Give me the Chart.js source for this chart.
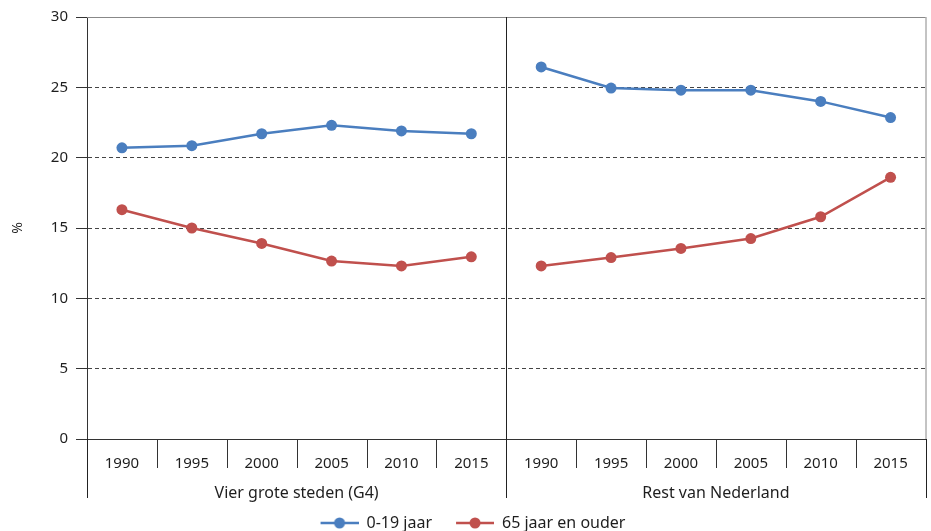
<!DOCTYPE html>
<html>
<head>
<meta charset="utf-8">
<script src="https://cdn.jsdelivr.net/npm/chart.js@4/dist/chart.umd.min.js"></script>
<style>
  html, body { margin: 0; padding: 0; background: #fff; }
  #wrap { width: 931px; height: 531px; }
</style>
</head>
<body>
<div id="wrap"><canvas id="chart"></canvas></div>
<script>
/* ──────────────────────────────────────────────
   Data
   ────────────────────────────────────────────── */
const years = ['1990', '1995', '2000', '2005', '2010', '2015'];
const groups = ['Vier grote steden (G4)', 'Rest van Nederland'];
const young = [20.7, 20.85, 21.7, 22.3, 21.9, 21.7, 26.45, 24.95, 24.8, 24.8, 24.0, 22.85];
const old = [16.3, 15.0, 13.9, 12.65, 12.3, 12.95, 12.3, 12.9, 13.55, 14.25, 15.8, 18.6];
const yTicks = [0, 5, 10, 15, 20, 25, 30];

const BLUE = '#4a7ebf';
const RED = '#c0504d';
const INK = '#1e1e1e';
const FONT = "'Noto Sans', 'Liberation Sans', Arial, sans-serif";

const labels = groups.flatMap(() => years);

// Line with dot, used as legend marker (blank strip on the left = gap between items)
function legendMarker(color) {
  const c = document.createElement('canvas');
  c.width = 58;
  c.height = 14;
  const g = c.getContext('2d');
  g.strokeStyle = color;
  g.lineWidth = 2.5;
  g.beginPath();
  g.moveTo(20, 7);
  g.lineTo(58, 7);
  g.stroke();
  g.fillStyle = color;
  g.beginPath();
  g.arc(39, 7, 5.5, 0, Math.PI * 2);
  g.fill();
  return c;
}

// Break the line between the two groups
const splitSegment = {
  borderColor: (ctx) => (ctx.p0DataIndex === years.length - 1 ? 'transparent' : undefined),
};

/* ──────────────────────────────────────────────
   Frame, group dividers and group labels
   ────────────────────────────────────────────── */
const framePlugin = {
  id: 'frame',
  afterDraw(chart) {
    const { ctx, chartArea: a, scales } = chart;
    const x = scales.x;
    const n = years.length;
    const step = (a.right - a.left) / labels.length;
    ctx.save();

    // top & right border (light)
    ctx.strokeStyle = '#888';
    ctx.lineWidth = 1;
    ctx.beginPath();
    ctx.moveTo(a.left, a.top + 0.5);
    ctx.lineTo(a.right, a.top + 0.5);
    ctx.moveTo(a.right + 0.5, a.top);
    ctx.lineTo(a.right + 0.5, a.bottom);
    ctx.stroke();

    // year ticks under the axis
    ctx.strokeStyle = '#333';
    ctx.beginPath();
    for (let i = 1; i < labels.length; i++) {
      if (i % n === 0) continue;
      const px = Math.round(x.getPixelForValue(i) - step / 2) + 0.5;
      ctx.moveTo(px, a.bottom);
      ctx.lineTo(px, a.bottom + 29);
    }
    ctx.stroke();

    // group dividers
    ctx.strokeStyle = '#222';
    ctx.beginPath();
    for (let gi = 0; gi <= groups.length; gi++) {
      const idx = Math.min(gi * n, labels.length - 1);
      const px = Math.round(x.getPixelForValue(idx) + (gi * n >= labels.length ? step / 2 : -step / 2)) + 0.5;
      const top = gi === 0 || gi === groups.length ? a.bottom : a.top;
      ctx.moveTo(px, top);
      ctx.lineTo(px, a.bottom + 59);
    }
    ctx.stroke();

    // group labels
    ctx.fillStyle = INK;
    ctx.font = '16px ' + FONT;
    ctx.textAlign = 'center';
    ctx.textBaseline = 'middle';
    groups.forEach((g, gi) => {
      const cx = (x.getPixelForValue(gi * n) + x.getPixelForValue(gi * n + n - 1)) / 2;
      ctx.fillText(g, cx, a.bottom + 54);
    });
    ctx.restore();
  },
};

new Chart(document.getElementById('chart'), {
  type: 'line',
  data: {
    labels,
    datasets: [
      {
        label: '0-19 jaar',
        data: young,
        borderColor: BLUE,
        backgroundColor: BLUE,
        borderWidth: 2.5,
        pointRadius: 5.5,
        pointBorderWidth: 0,
        pointStyle: 'circle',
        segment: splitSegment,
      },
      {
        label: '65 jaar en ouder',
        data: old,
        borderColor: RED,
        backgroundColor: RED,
        borderWidth: 2.5,
        pointRadius: 5.5,
        pointBorderWidth: 0,
        segment: splitSegment,
      },
    ],
  },
  options: {
    responsive: true,
    maintainAspectRatio: false,
    animation: false,
    layout: { padding: { top: 16, right: 5, left: 0, bottom: -10 } },
    scales: {
      x: {
        offset: true,
        grid: { display: false },
        border: { display: true, color: '#333', width: 1 },
        ticks: {
          color: INK,
          font: { size: 15, family: FONT },
          padding: 8,
          maxRotation: 0,
          autoSkip: false,
        },
        afterFit(scale) { scale.height = 72; },
      },
      y: {
        min: 0,
        max: 30,
        afterBuildTicks(scale) { scale.ticks = yTicks.map((v) => ({ value: v })); },
        grid: {
          color: (c) => (c.tick && (c.tick.value === 30 || c.tick.value === 0) ? 'transparent' : '#444'),
          tickColor: '#333',
          tickLength: 11,
          lineWidth: 1,
        },
        border: { display: true, color: '#333', dash: [4, 3] },
        ticks: {
          color: INK,
          font: { size: 15, family: FONT },
          padding: 8,
        },
        title: {
          display: true,
          text: '%',
          color: INK,
          font: { size: 14, family: FONT },
          padding: { top: 10, bottom: 0 },
        },
        afterFit(scale) { scale.width = 87; },
      },
    },
    plugins: {
      legend: {
        position: 'bottom',
        labels: {
          color: INK,
          font: { size: 16, family: FONT },
          usePointStyle: true,
          pointStyleWidth: 58,
          boxHeight: 14,
          padding: 4,
          generateLabels(chart) {
            return chart.data.datasets.map((ds, i) => ({
              text: ds.label,
              pointStyle: legendMarker(ds.borderColor),
              fillStyle: ds.borderColor,
              strokeStyle: ds.borderColor,
              lineWidth: 0,
              fontColor: INK,
              datasetIndex: i,
            }));
          },
        },
      },
      tooltip: { enabled: false },
    },
  },
  plugins: [framePlugin],
});
</script>
</body>
</html>
